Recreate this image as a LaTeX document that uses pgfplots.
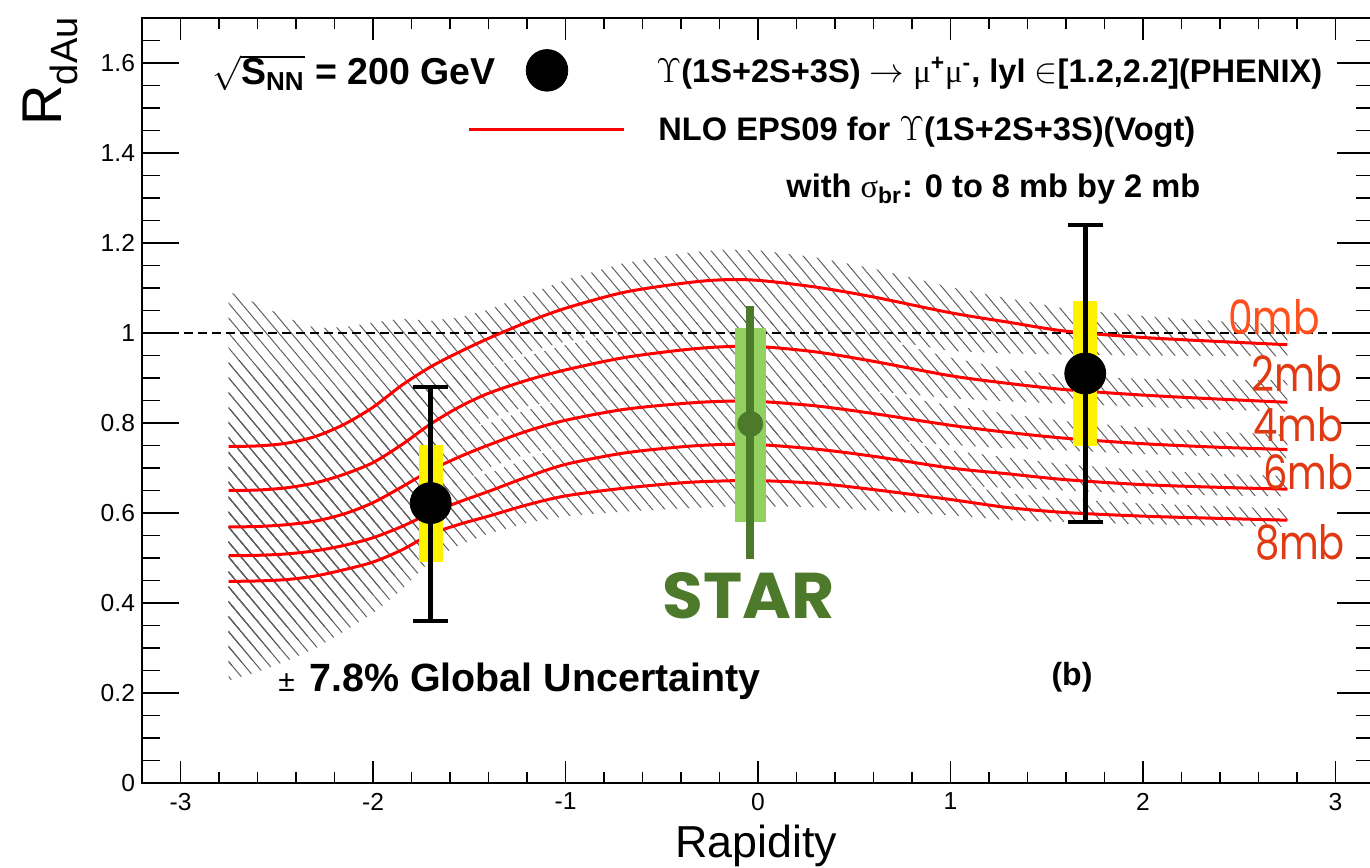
\documentclass[border=0pt]{standalone}
\usepackage{fontspec}
\setmainfont{Liberation Sans}
\newfontfamily\grk{Liberation Serif}
\newfontfamily\comic{Poppins}
\usepackage{graphicx}
\usepackage{pgfplots}
\pgfplotsset{compat=1.18}
\usepackage{pgfplotstable}
\usepgfplotslibrary{fillbetween}
\usetikzlibrary{patterns.meta}

\definecolor{stardark}{RGB}{77,122,42}
\definecolor{starlight}{RGB}{146,208,96}
\definecolor{mbzero}{RGB}{255,80,30}
\definecolor{mbred}{RGB}{224,58,18}
\definecolor{hatchc}{RGB}{95,95,95}

\pgfplotstableread{
x c0 c2 c4 c6 c8
-2.75 0.748 0.650 0.569 0.505 0.448
-2.6 0.749 0.651 0.570 0.506 0.449
-2.45 0.755 0.656 0.574 0.509 0.452
-2.3 0.770 0.667 0.582 0.516 0.460
-2.15 0.797 0.686 0.598 0.528 0.474
-2.0 0.835 0.712 0.623 0.545 0.491
-1.85 0.884 0.752 0.658 0.570 0.518
-1.7 0.925 0.798 0.695 0.600 0.553
-1.55 0.958 0.836 0.725 0.625 0.575
-1.4 0.988 0.866 0.751 0.648 0.593
-1.2 1.024 0.895 0.782 0.680 0.618
-1.0 1.055 0.918 0.806 0.708 0.638
-0.7 1.090 0.945 0.830 0.733 0.655
-0.4 1.110 0.962 0.843 0.747 0.667
-0.2 1.118 0.969 0.848 0.752 0.671
0 1.117 0.970 0.848 0.752 0.672
0.3 1.102 0.958 0.838 0.742 0.666
0.6 1.080 0.937 0.821 0.726 0.652
1.0 1.045 0.905 0.795 0.700 0.630
1.3 1.024 0.888 0.779 0.687 0.612
1.6 1.004 0.874 0.766 0.674 0.601
2.0 0.990 0.862 0.754 0.663 0.593
2.4 0.981 0.853 0.746 0.657 0.588
2.75 0.974 0.846 0.741 0.653 0.584
}\curves

\pgfplotstableread{
x lo0 hi0 lo2 hi2 lo4 hi4 lo6 hi6 lo8 hi8
-2.75 0.381 1.092 0.332 0.949 0.290 0.831 0.258 0.737 0.228 0.654
-2.6 0.413 1.065 0.358 0.924 0.314 0.809 0.278 0.719 0.247 0.638
-2.45 0.453 1.034 0.394 0.900 0.344 0.786 0.305 0.697 0.271 0.619
-2.3 0.502 1.011 0.434 0.875 0.378 0.762 0.335 0.676 0.299 0.603
-2.15 0.567 1.013 0.487 0.871 0.425 0.759 0.375 0.671 0.337 0.602
-2.0 0.643 1.023 0.548 0.872 0.480 0.763 0.419 0.666 0.377 0.600
-1.85 0.735 1.032 0.624 0.876 0.546 0.767 0.473 0.664 0.430 0.603
-1.7 0.823 1.027 0.712 0.888 0.620 0.774 0.535 0.667 0.495 0.617
-1.55 0.881 1.035 0.771 0.905 0.667 0.783 0.574 0.674 0.529 0.621
-1.4 0.924 1.052 0.810 0.922 0.701 0.799 0.604 0.688 0.554 0.630
-1.2 0.957 1.085 0.837 0.949 0.731 0.829 0.636 0.721 0.578 0.655
-1.0 0.981 1.118 0.854 0.973 0.750 0.854 0.658 0.750 0.593 0.676
-0.7 1.003 1.155 0.869 1.002 0.764 0.880 0.674 0.777 0.603 0.694
-0.4 1.016 1.177 0.880 1.020 0.771 0.894 0.683 0.792 0.610 0.707
-0.2 1.023 1.185 0.887 1.027 0.776 0.899 0.688 0.797 0.614 0.711
0 1.022 1.184 0.888 1.028 0.776 0.899 0.688 0.797 0.615 0.712
0.3 1.010 1.168 0.881 1.015 0.771 0.888 0.683 0.787 0.613 0.706
0.6 0.990 1.143 0.871 0.991 0.764 0.869 0.675 0.768 0.606 0.690
1.0 0.960 1.102 0.855 0.945 0.751 0.839 0.662 0.739 0.595 0.665
1.3 0.955 1.077 0.848 0.920 0.744 0.820 0.656 0.723 0.584 0.644
1.6 0.952 1.054 0.843 0.905 0.739 0.804 0.650 0.708 0.580 0.631
2.0 0.950 1.038 0.836 0.898 0.731 0.790 0.643 0.695 0.575 0.621
2.4 0.949 1.026 0.830 0.896 0.726 0.780 0.639 0.687 0.572 0.615
2.75 0.948 1.018 0.825 0.895 0.722 0.774 0.637 0.682 0.569 0.610
}\bands

\pgfplotsset{
  common/.style={
    at={(0pt,0pt)}, anchor=south west, scale only axis,
    width=616pt, height=382.5pt,
    xmin=-3.2, xmax=3.2, ymin=0, ymax=1.7,
    axis line style={line width=0.85pt, black},
    tick style={line width=0.7pt, black},
    /pgf/number format/assume math mode=true,
    tick label style={font=\fontsize{12.3}{14}\selectfont},
  },
  hatch/.style={draw=none, pattern={Lines[angle=-50, distance=4.8pt, line width=0.5pt]}, pattern color=hatchc},
}

\begin{document}
\begin{tikzpicture}

% x ticks axis
\begin{axis}[common, hide y axis,
  xtick={-3,-2,-1,0,1,2,3},
  minor xtick={-3.2,-3,...,3.2},
  major tick length=11pt, minor tick length=5.5pt,
  xticklabel style={yshift=-1.5pt}]
  \addplot[draw=none, forget plot] coordinates {(-3,0.5) (3,0.5)};
\end{axis}

% main axis with y ticks and data
\begin{axis}[common,
  xtick=\empty,
  ytick={0,0.2,0.4,0.6,0.8,1,1.2,1.4,1.6},
  minor ytick={0,0.05,...,1.7},
  major tick length=18.3pt, minor tick length=9pt]

  % uncertainty bands
  \addplot[name path=h0, draw=none, forget plot] table[x=x, y=hi0]{\bands};
  \addplot[name path=l0, draw=none, forget plot] table[x=x, y=lo0]{\bands};
  \addplot[name path=h2, draw=none, forget plot] table[x=x, y=hi2]{\bands};
  \addplot[name path=l2, draw=none, forget plot] table[x=x, y=lo2]{\bands};
  \addplot[name path=h4, draw=none, forget plot] table[x=x, y=hi4]{\bands};
  \addplot[name path=l4, draw=none, forget plot] table[x=x, y=lo4]{\bands};
  \addplot[name path=h6, draw=none, forget plot] table[x=x, y=hi6]{\bands};
  \addplot[name path=l6, draw=none, forget plot] table[x=x, y=lo6]{\bands};
  \addplot[name path=h8, draw=none, forget plot] table[x=x, y=hi8]{\bands};
  \addplot[name path=l8, draw=none, forget plot] table[x=x, y=lo8]{\bands};
  \addplot[hatch] fill between[of=h0 and l0];
  \addplot[hatch] fill between[of=h2 and l2];
  \addplot[hatch] fill between[of=h4 and l4];
  \addplot[hatch] fill between[of=h6 and l6];
  \addplot[hatch] fill between[of=h8 and l8];

  % reference line at 1
  \addplot[black, line width=0.8pt, dash pattern=on 4.5pt off 2.5pt] coordinates {(-3.2,1) (3.2,1)};

  % NLO curves
  \addplot[red, line width=1.5pt, smooth] table[x=x, y=c0]{\curves};
  \addplot[red, line width=1.5pt, smooth] table[x=x, y=c2]{\curves};
  \addplot[red, line width=1.5pt, smooth] table[x=x, y=c4]{\curves};
  \addplot[red, line width=1.5pt, smooth] table[x=x, y=c6]{\curves};
  \addplot[red, line width=1.5pt, smooth] table[x=x, y=c8]{\curves};

  % PHENIX systematic boxes
  \addplot[yellow, line width=12pt] coordinates {(-1.7,0.49) (-1.7,0.75)};
  \addplot[yellow, line width=12pt] coordinates {(1.7,0.748) (1.7,1.07)};
  % PHENIX error bars
  \addplot[black, line width=2.7pt] coordinates {(-1.7,0.36) (-1.7,0.88)};
  \addplot[black, line width=2.2pt] coordinates {(-1.791,0.36) (-1.609,0.36)};
  \addplot[black, line width=2.2pt] coordinates {(-1.791,0.88) (-1.609,0.88)};
  \addplot[black, line width=2.7pt] coordinates {(1.7,0.58) (1.7,1.24)};
  \addplot[black, line width=2.2pt] coordinates {(1.609,0.58) (1.791,0.58)};
  \addplot[black, line width=2.2pt] coordinates {(1.609,1.24) (1.791,1.24)};
  \addplot[only marks, mark=*, mark size=10.25pt, black] coordinates {(-1.7,0.622) (1.7,0.91)};

  % STAR
  \addplot[starlight, line width=15.5pt] coordinates {(-0.04,0.579) (-0.04,1.012)};
  \addplot[stardark, line width=4pt] coordinates {(-0.04,0.498) (-0.04,1.06)};
  \addplot[only marks, mark=*, mark size=6.25pt, stardark] coordinates {(-0.04,0.798)};

  % legend symbols
  \addplot[only marks, mark=*, mark size=10.4pt, black] coordinates {(-1.096,1.5836)};
  \addplot[red, line width=1.6pt] coordinates {(-1.499,1.452) (-0.694,1.452)};
\end{axis}

% axis titles
\node[rotate=90, anchor=base east, inner sep=0pt, font=\fontsize{28}{30}\selectfont] at (-40pt,383pt)
  {R\raisebox{-8pt}{\fontsize{19}{20}\selectfont dAu}};
\node[anchor=base, inner sep=0pt, font=\fontsize{22.4}{24}\selectfont] at (307.25pt,-37pt) {Rapidity};

% legend / annotations
\node[anchor=base west, inner sep=0pt, font=\bfseries\fontsize{18.75}{20}\selectfont] at (35pt,349pt)
  {$\sqrt{\mbox{S}_{\mbox{\fontsize{13}{14}\selectfont NN}}}$ = 200 GeV};
\node[anchor=base west, inner sep=0pt, font=\bfseries\fontsize{16.3}{18}\selectfont] at (257pt,350pt)
  {$\Upsilon$(1S+2S+3S) $\rightarrow$ {\grk\mdseries μ}\textsuperscript{+}{\grk\mdseries μ}\textsuperscript{-}, lyl $\in$[1.2,2.2](PHENIX)};
\node[anchor=base west, inner sep=0pt, font=\bfseries\fontsize{16.3}{18}\selectfont] at (258pt,321pt)
  {NLO EPS09 for $\Upsilon$(1S+2S+3S)(Vogt)};
\node[anchor=base west, inner sep=0pt, font=\bfseries\fontsize{16.3}{18}\selectfont] at (322pt,292.5pt)
  {with {\grk\mdseries σ}\textsubscript{br}: 0 to 8 mb by 2 mb};
\node[anchor=base west, inner sep=0pt, font=\fontsize{15}{16}\selectfont] at (68pt,45.5pt) {±};
\node[anchor=base west, inner sep=0pt, font=\bfseries\fontsize{19.7}{21}\selectfont] at (83.5pt,45.5pt)
  {7.8\% Global Uncertainty};
\node[inner sep=0pt, font=\bfseries\fontsize{16}{18}\selectfont] at (465pt,53pt) {(b)};

\node[text=stardark, inner sep=0pt] at (303.25pt,93.5pt) {\resizebox{86pt}{23pt}{\comic\bfseries STAR}};

\node[text=mbzero, inner sep=0pt] at (566pt,232.75pt) {\resizebox{45.8pt}{17.5pt}{\comic 0mb}};
\node[text=mbred, inner sep=0pt] at (577.5pt,204.8pt) {\resizebox{45.5pt}{18pt}{\comic 2mb}};
\node[text=mbred, inner sep=0pt] at (578.2pt,179pt) {\resizebox{45pt}{17pt}{\comic 4mb}};
\node[text=mbred, inner sep=0pt] at (583.2pt,155.25pt) {\resizebox{45pt}{17.5pt}{\comic 6mb}};
\node[text=mbred, inner sep=0pt] at (579pt,120.25pt) {\resizebox{45pt}{17.5pt}{\comic 8mb}};

\pgfresetboundingbox
\path[use as bounding box] (-71pt,-42pt) rectangle (614pt,391.5pt);
\end{tikzpicture}
\end{document}
